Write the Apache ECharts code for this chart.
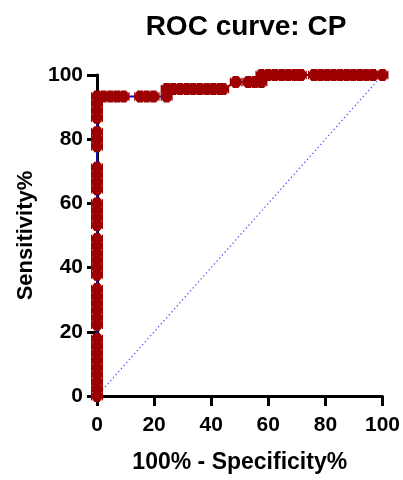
<!DOCTYPE html>
<html>
<head>
    <meta charset="utf-8">
    <title>ROC curve: CP</title>
    <script src="https://cdn.jsdelivr.net/npm/echarts@6/dist/echarts.min.js"></script>
    <style>
        body { margin: 0; background: #fff; }
    </style>
</head>
<body>
    <div id="main" style="width: 403px;height:480px;"></div>
    <script type="text/javascript">
        // 100% - Specificity% (x) and Sensitivity% (y)
        var fpr = [0, 0, 0, 0, 0, 0, 0, 0, 0,
                   0, 0, 0, 0, 0, 0,
                   0, 0, 0, 0, 0, 0,
                   0, 0, 0, 0,
                   0, 0, 0, 0,
                   0, 0, 0,
                   0, 0, 0, 0,
                   2.3, 4.7, 7.0, 9.3, 15.1, 17.4, 19.8, 24.4,
                   24.4, 26.7, 29.1, 31.4, 33.7, 36.0, 38.4, 40.7, 43.0, 44.2,
                   48.6, 53.0, 55.3, 57.6,
                   57.6, 60.0, 62.3, 64.7, 67.0, 69.3, 71.4,
                   76.0, 78.3, 80.6, 82.9, 85.2, 87.5, 89.8, 92.1, 94.4, 96.7, 100];
        var sens = [0, 2.2, 4.4, 6.7, 8.9, 11.1, 13.3, 15.6, 17.8,
                    22.2, 24.4, 26.7, 28.9, 31.1, 33.3,
                    37.8, 40.0, 42.2, 44.4, 46.7, 48.9,
                    53.3, 55.6, 57.8, 60.0,
                    64.4, 66.7, 68.9, 71.1,
                    77.8, 80.0, 82.2,
                    86.7, 88.9, 91.1, 93.3,
                    93.3, 93.3, 93.3, 93.3, 93.3, 93.3, 93.3, 93.3,
                    95.6, 95.6, 95.6, 95.6, 95.6, 95.6, 95.6, 95.6, 95.6, 95.6,
                    97.8, 97.8, 97.8, 97.8,
                    100, 100, 100, 100, 100, 100, 100,
                    100, 100, 100, 100, 100, 100, 100, 100, 100, 100, 100];
        var diagX = [0, 100];
        var diagY = [0, 100];
        var ticks = [0, 20, 40, 60, 80, 100];

        var rocData = [];
        for (var i = 0; i < fpr.length; i++) {
            rocData.push([fpr[i], sens[i]]);
        }
        var diagData = [];
        for (var j = 0; j < diagX.length; j++) {
            diagData.push([diagX[j], diagY[j]]);
        }

        var font = 'Liberation Sans, Arial, sans-serif';
        var axisCommon = {
            type: 'value',
            min: ticks[0],
            max: ticks[ticks.length - 1],
            interval: 20,
            splitLine: { show: false },
            axisLine: { show: true, lineStyle: { color: '#000', width: 3 } },
            axisTick: { show: true, length: 10, lineStyle: { color: '#000', width: 3 } },
            nameLocation: 'middle',
            nameTextStyle: { color: '#000', fontWeight: 'bold', fontFamily: font }
        };

        var myChart = echarts.init(document.getElementById('main'));
        var option = {
            animation: false,
            title: {
                text: 'ROC curve: CP',
                left: 241,
                top: 8,
                textAlign: 'center',
                textStyle: { color: '#000', fontSize: 28, fontWeight: 'bold', fontFamily: font }
            },
            grid: { left: 97, right: 18, top: 75, bottom: 84 },
            xAxis: Object.assign({}, axisCommon, {
                name: '100% - Specificity%',
                nameGap: 55,
                nameTextStyle: Object.assign({}, axisCommon.nameTextStyle, { fontSize: 23 }),
                axisLabel: { color: '#000', fontSize: 21, fontWeight: 'bold', fontFamily: font, margin: 19 }
            }),
            yAxis: Object.assign({}, axisCommon, {
                name: 'Sensitivity%',
                nameGap: 59,
                nameTextStyle: Object.assign({}, axisCommon.nameTextStyle, { fontSize: 22 }),
                axisLabel: { color: '#000', fontSize: 21, fontWeight: 'bold', fontFamily: font, margin: 14 }
            }),
            series: [
                {
                    type: 'line',
                    data: diagData,
                    symbol: 'none',
                    silent: true,
                    lineStyle: { color: '#5a5aff', width: 1.2, type: [1.5, 2.5] },
                    z: 1
                },
                {
                    type: 'line',
                    data: rocData,
                    // chunky plus with slightly bumpy outline
                    symbol: 'path://M2.5,0H7.5V1H8.5V2.5H9V1.5H10V8.5H9V7.5H8.5V9H7.5V10H2.5V9H1.5V7.5H1V8.5H0V1.5H1V2.5H1.5V1H2.5Z',
                    symbolSize: 12,
                    showAllSymbol: true,
                    itemStyle: { color: '#9c0000' },
                    lineStyle: { color: '#1010c8', width: 1.8 },
                    z: 2
                }
            ]
        };
        myChart.setOption(option);

        window.addEventListener('resize', function () {
            myChart.resize();
        });
    </script>
</body>
</html>
